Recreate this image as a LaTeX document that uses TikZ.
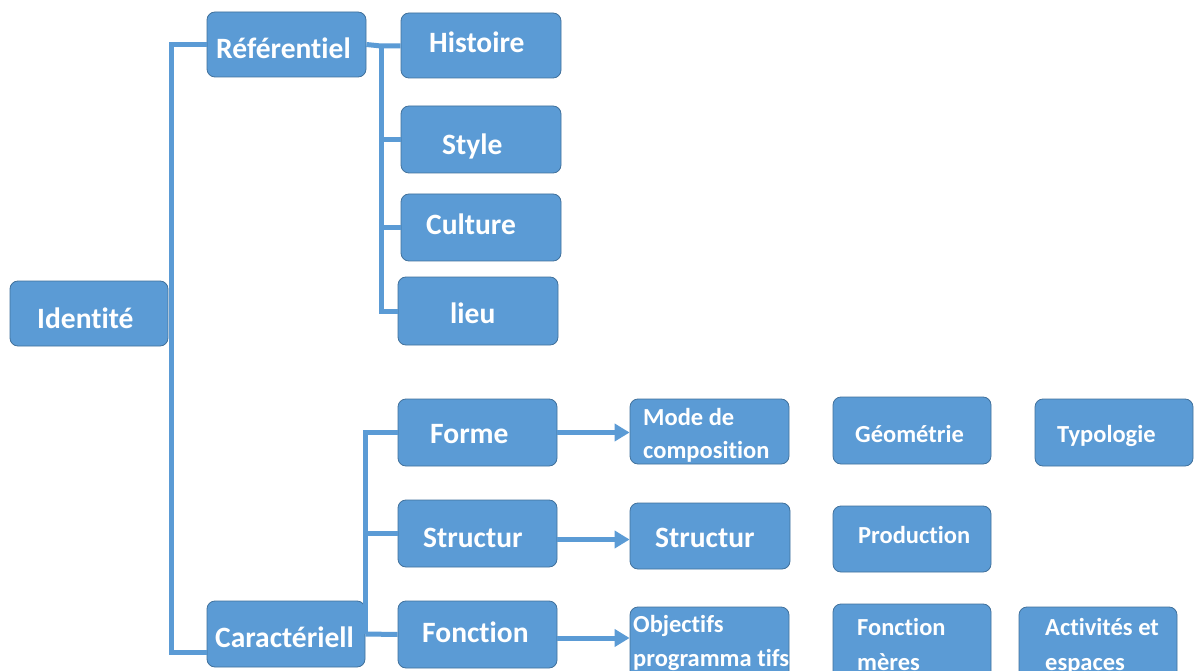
\documentclass[tikz,border=0pt]{standalone}
\usepackage{fontspec}
\setmainfont{Carlito}[RawFeature={-liga;-clig;-calt;-dlig}]
\usetikzlibrary{arrows.meta}
\definecolor{boxfill}{HTML}{5B9BD5}
\definecolor{boxline}{HTML}{41719C}
\definecolor{conncol}{HTML}{5B9BD5}
\tikzset{
  box/.style={draw=boxline, fill=boxfill, line width=0.8pt, rounded corners=8pt, inner sep=0pt},
  big/.style={text=white, inner sep=0pt, anchor=base west, font=\bfseries\fontsize{29.5}{33}\selectfont},
  small/.style={text=white, inner sep=0pt, anchor=base west, font=\bfseries\fontsize{24.5}{33}\selectfont},
  conn/.style={draw=conncol, line width=5pt},
  arr/.style={draw=conncol, line width=5pt, -{Triangle[length=15pt,width=17pt]}},
}
\begin{document}
\begin{tikzpicture}[x=1pt,y=-1pt]
\fill[white] (0,0) rectangle (1197,671);
\useasboundingbox (0,0) rectangle (1197,671);

\coordinate (rb) at (381,46);
\coordinate (cb) at (365,432);

% boxes
\node[box, minimum width=158pt, minimum height=65pt] (ident) at (89,313.5) {};
\node[box, minimum width=159pt, minimum height=65pt] (ref) at (286.5,44.5) {};
\node[box, minimum width=160pt, minimum height=65pt] (hist) at (481,45.5) {};
\node[box, minimum width=160pt, minimum height=67pt] (style) at (481,139.5) {};
\node[box, minimum width=160pt, minimum height=67pt] (cult) at (481,227.5) {};
\node[box, minimum width=160pt, minimum height=68pt] (lieu) at (478,311) {};
\node[box, minimum width=159pt, minimum height=67pt] (forme) at (477.5,432.5) {};
\node[box, minimum width=159pt, minimum height=67pt] (struct) at (477.5,533.5) {};
\node[box, minimum width=159pt, minimum height=67pt] (fonc) at (477.5,634.5) {};
\node[box, minimum width=158pt, minimum height=66pt] (car) at (286,634) {};
\node[box, minimum width=159pt, minimum height=65pt] (mode) at (709.5,431.5) {};
\node[box, minimum width=160pt, minimum height=66pt] (structb) at (710,536) {};
\node[box, minimum width=159pt, minimum height=73pt] (obj) at (709.5,643.5) {};
\node[box, minimum width=158pt, minimum height=67pt] (geo) at (912,430.5) {};
\node[box, minimum width=158pt, minimum height=67pt] (typo) at (1114,432.5) {};
\node[box, minimum width=158pt, minimum height=66pt] (prod) at (912,539) {};
\node[box, minimum width=158pt, minimum height=76pt] (fmer) at (912,642) {};
\node[box, minimum width=158pt, minimum height=73pt] (act) at (1098,643.5) {};

% connectors
\draw[conn] (ref.west) -| ([xshift=3pt]ident.east) |- ([yshift=-18pt]car.west);
\draw[conn] (ref.east) -- (rb) -- (hist.west |- rb);
\draw[conn] (rb) |- (style.west);
\draw[conn] (rb) |- (cult.west);
\draw[conn] (rb) |- (lieu.west);
\draw[conn] (forme.west) -- (forme.west -| cb) -- (cb |- car.east);
\draw[conn] (struct.west) -- (struct.west -| cb);
\draw[conn] (car.east) -- (fonc.west);
\draw[arr] (forme.east) -- (forme.east -| mode.west);
\draw[arr] ([yshift=-6pt]struct.east) -- ([yshift=-6pt]struct.east -| structb.west);
\draw[arr] ([yshift=-3.5pt]fonc.east) -- ([yshift=-3.5pt]fonc.east -| obj.west);

% texts
\node[big] (t-ident) at (37,328) {Identité};
\node[big] (t-ref) at (216,59) {Référentiel};
\node[big] (t-hist) at (429,53) {Histoire};
\node[big] (t-style) at (442,155) {Style};
\node[big] (t-cult) at (426,235) {Culture};
\node[big] (t-lieu) at (450,323) {lieu};
\node[big] (t-forme) at (430,443) {Forme};
\node[big] (t-struct) at (423,547) {Structur};
\node[big] (t-fonc) at (422,642) {Fonction};
\node[big] (t-car) at (215,647) {Caractériell};
\node[small] (t-mode1) at (643,425) {Mode de};
\node[small] (t-mode2) at (643,458) {composition};
\node[big] (t-structb) at (655,547) {Structur};
\node[small] (t-obj1) at (633,632) {Objectifs};
\node[small] (t-obj2) at (633,666) {programma tifs};
\node[small] (t-geo) at (855,442) {Géométrie};
\node[small] (t-typo) at (1057,442) {Typologie};
\node[small] (t-prod) at (858,543) {Production};
\node[small] (t-fmer1) at (857,635) {Fonction};
\node[small] (t-fmer2) at (857,670) {mères};
\node[small] (t-act1) at (1045,635) {Activités et};
\node[small] (t-act2) at (1045,670) {espaces};
\end{tikzpicture}
\end{document}
